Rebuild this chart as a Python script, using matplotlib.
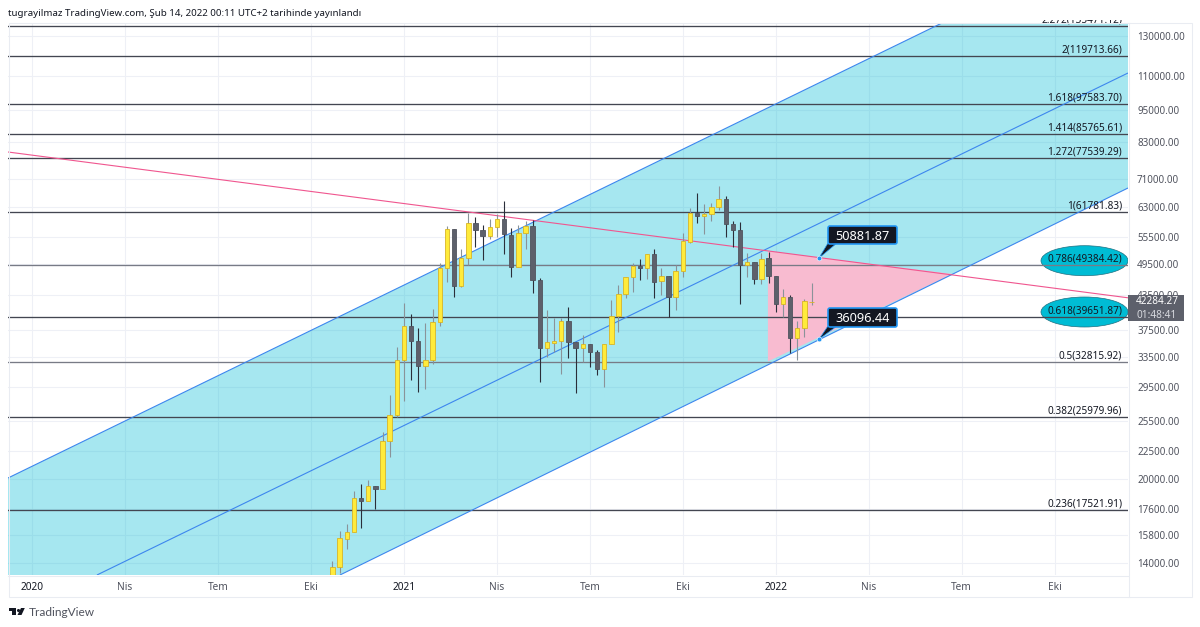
import matplotlib
matplotlib.use("Agg")
import matplotlib.pyplot as plt
from matplotlib.patches import Polygon, Ellipse, Rectangle, FancyBboxPatch
from matplotlib.transforms import Bbox

W, H = 1200, 627
plt.rcParams['font.family'] = ['Noto Sans', 'DejaVu Sans']

# weekly candles, index 0 = first week of 2021
first_week = -10
opens = [13326,13784,15495,15981,18450,18218,19410,19166,23476,26204,33059,38216,35822,32272,33059,38818,48768,57506,45200,50872,58984,57264,55828,58000,59990,56065,49000,56540,58238,46357,34780,35520,35822,38982,35670,34780,35370,34198,31825,35370,39810,43700,47015,49180,48768,51737,46160,47200,43141,48155,54430,61527,60750,61270,63110,65280,58735,57264,49390,50020,46550,50872,47200,41880,43141,36280,37845,42240]
highs = [14138,16048,16530,19005,19575,19909,19410,24389,28520,34924,42062,40150,37845,38654,41010,49812,58240,57506,52845,61527,60495,58487,59990,61270,64730,57750,58487,59485,59736,46750,40837,39480,39480,41350,35670,36740,35370,34486,35370,42600,45400,47015,49812,50660,51737,52845,48768,47200,49390,56540,62840,66956,63910,64180,68966,66112,59485,59235,51960,50020,51960,52180,47200,44620,43500,38982,42780,45770]
lows = [13200,13438,14873,15981,16253,18218,17612,19166,21941,25980,27800,30380,28878,29247,32504,38166,45967,43141,45009,49390,53295,50445,55120,55596,51737,47015,49000,52845,43870,30125,33481,34198,31160,33340,28755,32780,32090,31030,29500,35370,37210,42960,44060,46357,46550,42960,43500,39640,40837,47015,54200,58984,56303,59485,62314,55596,53295,41880,47015,45590,45590,45780,40490,39640,34050,33059,36430,41700]
closes = [13784,15561,16001,18450,18218,19410,19166,23476,26204,33059,38216,35822,32272,33059,38818,48768,57506,45200,50872,58984,57264,55828,58000,59990,56303,49000,56540,58238,46357,34780,35670,35822,38982,35670,34780,35370,34198,31825,35370,39810,43700,47015,49180,48768,51737,45967,47200,43141,48155,54660,61527,60750,61270,63110,65280,58735,57264,49390,50020,46550,50660,47200,41880,43141,36280,37845,42420,42284]

# Fibonacci levels
fib_levels = [135471.12,119713.66,97583.70,85765.61,77539.29,61781.83,49384.42,39651.87,32815.92,25979.96,17521.91]
fib_names = ['2.272','2','1.618','1.414','1.272','1','0.786','0.618','0.5','0.382','0.236']
fib_colors = ['#434651','#434651','#434651','#434651','#434651','#434651','#787b86','#434651','#787b86','#434651','#434651']

# drawn lines (week, price)
upper_x, upper_y = [-55.38, 75.24], [20078, 137340]
middle_x, middle_y = [-42.94, 101.26], [13326, 111180]
lower_x, lower_y = [-8.95, 101.26], [13326, 68385]
pink_x, pink_y = [-55.38, 101.26], [79620, 43000]
wedge_x, wedge_y = [50.9, 50.9, 76.7], [52400, 32850, 47547]
call_x = [58.05, 58.05]
call_y = [50881.87, 36096.44]

# axes ticks
ytick_vals = [130000,110000,95000,83000,71000,63000,55500,49500,43500,37500,33500,29500,25500,22500,20000,17600,15800,14000]
xtick_vals = [-52,-39,-26,-13,0,13,26,39,52,65,78,91]
xtick_labels = ['2020','Nis','Tem','Eki','2021','Nis','Tem','Eki','2022','Nis','Tem','Eki']
x_lim = (-55.38, 101.26)
y_lim = (13326, 137340)

fig = plt.figure(figsize=(W/100, H/100), dpi=100, facecolor='white')
ax = fig.add_axes([8/W, 1-575/H, 1120/W, 552/H])
ax.set_yscale('log')
ax.set_xlim(*x_lim)
ax.set_ylim(*y_lim)
ax.set_facecolor('white')
for s in ax.spines.values():
    s.set_visible(False)
ax.minorticks_off()
ax.set_yticks(ytick_vals)
ax.set_xticks(xtick_vals)
ax.set_yticklabels(['%.2f' % v for v in ytick_vals])
ax.set_xticklabels(xtick_labels)
ax.yaxis.tick_right()
ax.tick_params(axis='y', length=0, pad=6.5, labelsize=7.1, labelcolor='#50535e')
ax.tick_params(axis='x', length=0, pad=5, labelsize=7.3, labelcolor='#50535e')
for t, lab in zip(ax.get_xticklabels(), xtick_labels):
    if lab.isdigit():
        t.set_fontweight('bold')
        t.set_color('#131722')
ax.grid(True, color='#eef0f6', lw=0.75)
ax.set_axisbelow(True)

# channel fill (alpha keeps grid visible)
ax.add_patch(Polygon([(upper_x[0], upper_y[0]), (upper_x[1], upper_y[1]), (x_lim[1], y_lim[1]),
                      (lower_x[1], lower_y[1]), (lower_x[0], lower_y[0]), (x_lim[0], y_lim[0])],
                     closed=True, fc='#00bcd4', alpha=0.35, lw=0, zorder=1))
ax.add_patch(Polygon(list(zip(wedge_x, wedge_y)), closed=True, fc='#f8bbd0', lw=0, zorder=1.2))

# ellipses sit under the Fib lines
for cy in (260.7, 312):
    ax.add_patch(Ellipse(((1084.5-8)/1120, (575-cy)/552), 87/1120, 30/552, transform=ax.transAxes,
                         fc='#00bcd4', ec='#1f6f80', lw=0.5, zorder=1.8))

# Fib lines
for lv, c in zip(fib_levels, fib_colors):
    ax.axhline(lv, color=c, lw=0.95, zorder=2)

# channel and pink lines
for xs, ys in ((upper_x, upper_y), (middle_x, middle_y), (lower_x, lower_y)):
    ax.plot(xs, ys, color='#3d86ee', lw=0.8, zorder=2.5, solid_capstyle='butt')
ax.plot(pink_x, pink_y, color='#f0568f', lw=0.8, zorder=2.5)

# candles
for k, (o, h, l, c) in enumerate(zip(opens, highs, lows, closes)):
    i = first_week + k
    up = c >= o
    ax.vlines(i, l, h, color='#8a9399' if up else '#2a2e39', lw=0.8, zorder=3)
    ax.bar(i, abs(c-o), bottom=min(o, c), width=0.62,
           color='#ffeb3b' if up else '#5d606b',
           edgecolor='#d9b526' if up else '#50535e', linewidth=0.6, zorder=3.2)

# fib labels
clip = Bbox([[0, 0], [W, H-20]])
for lv, name in zip(fib_levels, fib_names):
    t = ax.annotate('%s(%.2f)' % (name, lv), xy=(1, lv), xycoords=('axes fraction', 'data'),
                    xytext=(-4.3, 0.3), textcoords='offset points', ha='right', va='bottom',
                    fontsize=7.2, color='#131722', zorder=5, annotation_clip=False)
    t.set_clip_box(clip)
    t.set_clip_on(True)

# callouts
def px(x, y):
    return fig.transFigure.inverted().transform((x, H-y))
for xv, yv, top, bot in zip(call_x, call_y, (226, 308), (244, 327)):
    bx0, bx1, by0, by1 = 828, 897, top, bot
    tip = fig.transFigure.inverted().transform(ax.transData.transform((xv, yv)))
    a, b = px(828, by1-1), px(837, by1-1)
    fig.add_artist(Polygon([a, b, tip], closed=True, fc='#131722', ec='#2196f3', lw=0.5,
                           transform=fig.transFigure, zorder=6))
    fig.add_artist(plt.Line2D([tip[0]], [tip[1]], marker='o', ms=3.4, color='#2196f3', mec='white', mew=0.4,
                              transform=fig.transFigure, zorder=8))
    x0, y0 = px(bx0, by1)
    x1, y1 = px(bx1, by0)
    fig.add_artist(FancyBboxPatch((bx0+2, H-by1+2), bx1-bx0-4, by1-by0-4,
                                  boxstyle='round,pad=2', transform=None,
                                  fc='#131722', ec='#2196f3', lw=1.2, zorder=7))
    fig.text((x0+x1)/2, (y0+y1)/2, '%.2f' % yv, color='white', fontsize=9.2, fontweight='bold',
             ha='center', va='center_baseline', zorder=8)

# panel borders, price tag
fig.add_artist(Rectangle((8.5/W, 1-597/H), 1183/W, 574/H, transform=fig.transFigure, fc='none', ec='#e9ecf2', lw=0.75))
fig.add_artist(plt.Line2D([1128.5/W, 1128.5/W], [1-597/H, 1-23/H], color='#e9ecf2', lw=0.75))
fig.add_artist(plt.Line2D([8/W, 1128/W], [1-575.5/H, 1-575.5/H], color='#e9ecf2', lw=0.75))
fig.add_artist(Rectangle((1128/W, 1-321/H), 56/W, 26/H, transform=fig.transFigure, fc='#5d606b', ec='none', zorder=9))
fig.text(1157/W, 1-302/H, '42284.27', color='white', fontsize=7.2, fontweight='bold', ha='center', va='center', zorder=10)
fig.text(1157/W, 1-315/H, '01:48:41', color='#d8dae0', fontsize=7.2, ha='center', va='center', zorder=10)

# header and footer
fig.text(8/W, 1-13/H, 'tugrayilmaz TradingView.com, Şub 14, 2022 00:11 UTC+2 tarihinde yayınlandı',
         fontsize=7.0, color='#131722', ha='left', va='center')
fig.text(29/W, 1-612/H, 'TradingView', fontsize=8.6, family='Lato', color='#50535e', ha='left', va='center')
# logo
logo = '#131722'
fig.add_artist(Polygon([(8.7/W, 1-608/H), (16/W, 1-608/H), (16/W, 1-615/H), (12.3/W, 1-615/H), (12.3/W, 1-611/H), (8.7/W, 1-611/H)],
                       closed=True, transform=fig.transFigure, fc=logo, ec='none'))
fig.add_artist(plt.Line2D([17.8/W], [1-609.5/H], marker='o', ms=2.2, color=logo, mew=0, transform=fig.transFigure))
fig.add_artist(Polygon([(21/W, 1-608/H), (24.8/W, 1-608/H), (21.5/W, 1-615/H), (17.5/W, 1-615/H)], closed=True,
                       transform=fig.transFigure, fc=logo, ec='none'))

fig.savefig('out.png', dpi=100)
